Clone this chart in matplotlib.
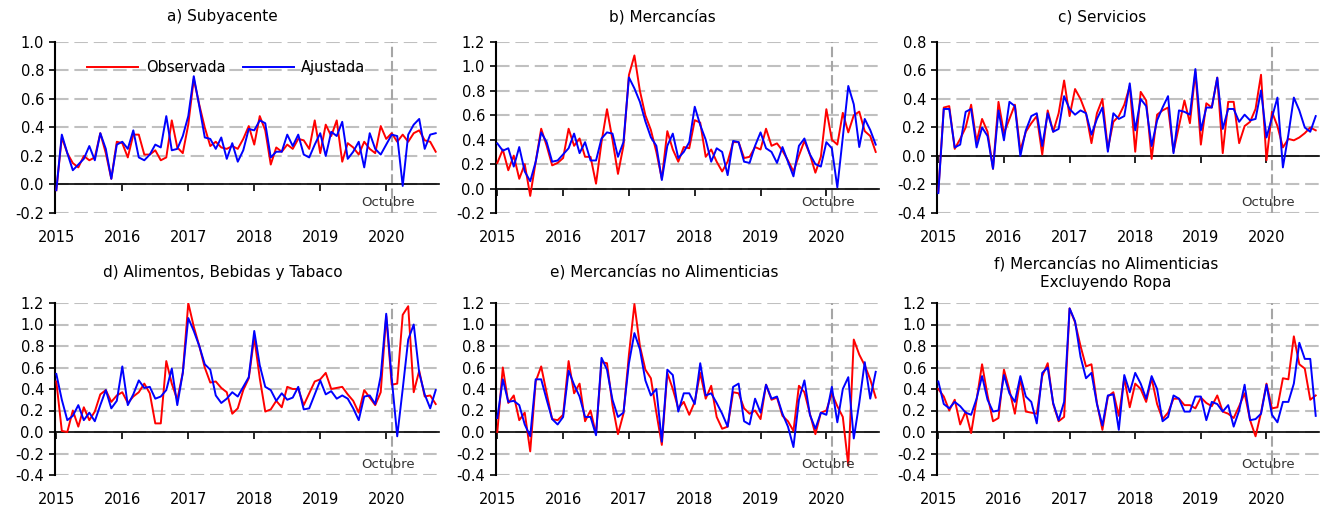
import numpy as np
import matplotlib
matplotlib.use("Agg")
import matplotlib.pyplot as plt
import matplotlib.transforms as mtransforms
from matplotlib.ticker import FormatStrFormatter

# meses de enero 2015 a octubre 2020
anios = [2015, 2016, 2017, 2018, 2019, 2020]
meses = 2015 + np.arange(70) / 12.0
corte = 2020 + 1 / 12.0

sub_obs = [-0.04, 0.33, 0.22, 0.15, 0.12, 0.20, 0.17, 0.19, 0.36, 0.22,
           0.04, 0.30, 0.29, 0.19, 0.35, 0.35, 0.21, 0.21, 0.24, 0.17,
           0.19, 0.45, 0.26, 0.22, 0.42, 0.74, 0.56, 0.40, 0.27, 0.30,
           0.26, 0.25, 0.27, 0.25, 0.32, 0.41, 0.28, 0.48, 0.38, 0.14,
           0.26, 0.23, 0.28, 0.25, 0.32, 0.31, 0.25, 0.45, 0.22, 0.42,
           0.34, 0.45, 0.16, 0.29, 0.26, 0.21, 0.30, 0.25, 0.22, 0.41,
           0.32, 0.36, 0.30, 0.35, 0.30, 0.36, 0.38, 0.31, 0.30, 0.23]
sub_aj = [-0.04, 0.35, 0.22, 0.10, 0.14, 0.18, 0.27, 0.17, 0.36, 0.25,
          0.04, 0.28, 0.30, 0.25, 0.38, 0.19, 0.17, 0.21, 0.28, 0.26,
          0.48, 0.24, 0.25, 0.34, 0.48, 0.76, 0.55, 0.33, 0.32, 0.25,
          0.33, 0.18, 0.29, 0.16, 0.24, 0.39, 0.38, 0.45, 0.43, 0.19,
          0.23, 0.23, 0.35, 0.27, 0.35, 0.21, 0.19, 0.28, 0.36, 0.20,
          0.37, 0.34, 0.44, 0.18, 0.23, 0.30, 0.12, 0.36, 0.25, 0.21,
          0.28, 0.35, 0.34, -0.01, 0.35, 0.42, 0.46, 0.25, 0.35, 0.36]

mer_obs = [0.21, 0.32, 0.15, 0.27, 0.08, 0.20, -0.06, 0.22, 0.49, 0.35,
           0.19, 0.21, 0.25, 0.49, 0.35, 0.41, 0.26, 0.26, 0.04, 0.38,
           0.65, 0.40, 0.12, 0.35, 0.93, 1.09, 0.80, 0.60, 0.48, 0.30,
           0.08, 0.47, 0.32, 0.22, 0.34, 0.33, 0.56, 0.54, 0.26, 0.32,
           0.22, 0.14, 0.22, 0.38, 0.38, 0.25, 0.26, 0.34, 0.32, 0.49,
           0.35, 0.37, 0.31, 0.23, 0.14, 0.27, 0.39, 0.28, 0.13, 0.26,
           0.65, 0.40, 0.36, 0.62, 0.46, 0.60, 0.63, 0.47, 0.43, 0.30]
mer_aj = [0.37, 0.31, 0.33, 0.18, 0.34, 0.14, 0.06, 0.22, 0.46, 0.38,
          0.22, 0.23, 0.28, 0.33, 0.45, 0.29, 0.38, 0.23, 0.23, 0.41,
          0.46, 0.45, 0.26, 0.38, 0.91, 0.82, 0.71, 0.55, 0.42, 0.35,
          0.07, 0.35, 0.45, 0.25, 0.30, 0.38, 0.67, 0.52, 0.40, 0.22,
          0.33, 0.30, 0.11, 0.39, 0.38, 0.22, 0.21, 0.35, 0.46, 0.33,
          0.30, 0.21, 0.34, 0.22, 0.10, 0.35, 0.41, 0.28, 0.20, 0.18,
          0.38, 0.33, 0.01, 0.42, 0.84, 0.69, 0.34, 0.57, 0.48, 0.36]

ser_obs = [-0.25, 0.34, 0.35, 0.05, 0.12, 0.20, 0.36, 0.10, 0.26, 0.17,
           -0.09, 0.38, 0.16, 0.26, 0.36, 0.04, 0.17, 0.23, 0.28, 0.01,
           0.32, 0.17, 0.30, 0.53, 0.28, 0.47, 0.40, 0.30, 0.09, 0.30,
           0.40, 0.05, 0.24, 0.28, 0.36, 0.49, 0.03, 0.45, 0.39, -0.02,
           0.29, 0.32, 0.34, 0.03, 0.21, 0.39, 0.23, 0.59, 0.08, 0.37,
           0.34, 0.55, 0.02, 0.38, 0.38, 0.09, 0.21, 0.24, 0.33, 0.57,
           -0.03, 0.31, 0.21, 0.06, 0.12, 0.11, 0.13, 0.16, 0.20, 0.18]
ser_aj = [-0.26, 0.33, 0.33, 0.06, 0.08, 0.31, 0.33, 0.06, 0.20, 0.14,
          -0.09, 0.32, 0.11, 0.38, 0.35, 0.00, 0.18, 0.28, 0.30, 0.07,
          0.30, 0.17, 0.19, 0.42, 0.33, 0.29, 0.32, 0.30, 0.15, 0.26,
          0.34, 0.03, 0.30, 0.26, 0.28, 0.51, 0.18, 0.40, 0.35, 0.07,
          0.25, 0.34, 0.42, 0.02, 0.32, 0.31, 0.29, 0.61, 0.18, 0.34,
          0.34, 0.55, 0.19, 0.33, 0.33, 0.24, 0.29, 0.25, 0.26, 0.46,
          0.13, 0.27, 0.41, -0.08, 0.15, 0.41, 0.32, 0.20, 0.17, 0.28]

abt_obs = [0.47, 0.01, 0.00, 0.20, 0.05, 0.23, 0.11, 0.19, 0.35, 0.39,
           0.28, 0.34, 0.37, 0.27, 0.33, 0.37, 0.45, 0.36, 0.08, 0.08,
           0.66, 0.45, 0.30, 0.55, 1.20, 0.98, 0.80, 0.60, 0.46, 0.47,
           0.41, 0.37, 0.17, 0.22, 0.39, 0.50, 0.88, 0.50, 0.19, 0.21,
           0.29, 0.23, 0.42, 0.40, 0.40, 0.25, 0.36, 0.47, 0.49, 0.55,
           0.40, 0.41, 0.42, 0.35, 0.29, 0.18, 0.39, 0.32, 0.25, 0.37,
           1.08, 0.44, 0.45, 1.09, 1.17, 0.37, 0.57, 0.33, 0.34, 0.26]
abt_aj = [0.54, 0.30, 0.11, 0.15, 0.25, 0.11, 0.18, 0.10, 0.25, 0.39,
          0.22, 0.29, 0.61, 0.25, 0.35, 0.48, 0.41, 0.42, 0.31, 0.33,
          0.39, 0.59, 0.25, 0.55, 1.06, 0.94, 0.80, 0.63, 0.58, 0.34,
          0.27, 0.31, 0.37, 0.33, 0.42, 0.51, 0.94, 0.62, 0.42, 0.39,
          0.29, 0.36, 0.30, 0.32, 0.42, 0.21, 0.22, 0.35, 0.48, 0.35,
          0.38, 0.31, 0.34, 0.31, 0.22, 0.11, 0.33, 0.34, 0.26, 0.52,
          1.10, 0.50, -0.04, 0.40, 0.86, 1.00, 0.55, 0.35, 0.22, 0.39]

mna_obs = [0.00, 0.60, 0.27, 0.34, 0.11, 0.18, -0.18, 0.47, 0.61, 0.36,
           0.12, 0.11, 0.16, 0.66, 0.36, 0.45, 0.10, 0.20, -0.02, 0.65,
           0.64, 0.25, -0.02, 0.17, 0.72, 1.19, 0.80, 0.58, 0.50, 0.18,
           -0.12, 0.55, 0.40, 0.22, 0.28, 0.16, 0.28, 0.55, 0.31, 0.43,
           0.14, 0.03, 0.05, 0.37, 0.36, 0.22, 0.17, 0.20, 0.12, 0.44,
           0.30, 0.32, 0.15, 0.10, 0.01, 0.43, 0.37, 0.17, -0.02, 0.18,
           0.20, 0.36, 0.24, 0.14, -0.31, 0.86, 0.72, 0.62, 0.49, 0.32]
mna_aj = [0.13, 0.49, 0.28, 0.29, 0.25, 0.07, -0.04, 0.49, 0.49, 0.30,
          0.12, 0.07, 0.14, 0.57, 0.44, 0.33, 0.14, 0.14, -0.03, 0.69,
          0.58, 0.30, 0.14, 0.18, 0.64, 0.92, 0.77, 0.48, 0.34, 0.40,
          -0.09, 0.58, 0.53, 0.19, 0.36, 0.36, 0.26, 0.64, 0.34, 0.36,
          0.27, 0.17, 0.05, 0.42, 0.45, 0.10, 0.07, 0.31, 0.18, 0.44,
          0.31, 0.33, 0.17, 0.05, -0.14, 0.30, 0.48, 0.16, 0.03, 0.18,
          0.16, 0.42, 0.09, 0.40, 0.51, -0.06, 0.27, 0.65, 0.31, 0.56]

mnr_obs = [0.40, 0.33, 0.20, 0.30, 0.07, 0.19, -0.01, 0.30, 0.63, 0.34,
           0.10, 0.13, 0.58, 0.39, 0.17, 0.50, 0.19, 0.18, 0.17, 0.52,
           0.64, 0.26, 0.10, 0.14, 1.15, 1.02, 0.80, 0.61, 0.63, 0.27,
           0.02, 0.33, 0.37, 0.15, 0.50, 0.23, 0.45, 0.40, 0.28, 0.50,
           0.26, 0.12, 0.18, 0.31, 0.31, 0.25, 0.25, 0.22, 0.32, 0.27,
           0.24, 0.34, 0.19, 0.17, 0.13, 0.24, 0.36, 0.11, -0.04, 0.18,
           0.45, 0.22, 0.23, 0.50, 0.49, 0.89, 0.63, 0.59, 0.30, 0.34]
mnr_aj = [0.47, 0.26, 0.22, 0.28, 0.24, 0.18, 0.16, 0.31, 0.52, 0.30,
          0.19, 0.20, 0.53, 0.36, 0.28, 0.52, 0.33, 0.28, 0.08, 0.55,
          0.60, 0.27, 0.11, 0.28, 1.15, 1.03, 0.70, 0.50, 0.55, 0.26,
          0.06, 0.34, 0.35, 0.02, 0.53, 0.37, 0.55, 0.45, 0.31, 0.52,
          0.40, 0.10, 0.14, 0.34, 0.31, 0.19, 0.19, 0.33, 0.33, 0.11,
          0.28, 0.26, 0.19, 0.25, 0.05, 0.20, 0.44, 0.11, 0.12, 0.17,
          0.44, 0.16, 0.09, 0.28, 0.28, 0.45, 0.83, 0.68, 0.68, 0.15]

W, H = 1322, 508
# (titulo, observada, ajustada, limites y, caja en px [izq, arriba, der, abajo], centro del titulo)
paneles = [
    ("a) Subyacente", sub_obs, sub_aj, (-0.2, 1.0), (55, 42, 439, 213), (222, 17)),
    ("b) Mercancías", mer_obs, mer_aj, (-0.2, 1.2), (496, 42, 879, 213), (662, 17)),
    ("c) Servicios", ser_obs, ser_aj, (-0.4, 0.8), (937, 42, 1319, 213), (1102, 17)),
    ("d) Alimentos, Bebidas y Tabaco", abt_obs, abt_aj, (-0.4, 1.2), (55, 303, 439, 475), (223, 272)),
    ("e) Mercancías no Alimenticias", mna_obs, mna_aj, (-0.4, 1.2), (496, 303, 879, 475), (664, 272)),
    ("f) Mercancías no Alimenticias\nExcluyendo Ropa", mnr_obs, mnr_aj, (-0.4, 1.2), (937, 303, 1319, 475), (1106, 273)),
]

plt.rcParams['font.family'] = ['DejaVu Sans']
fig = plt.figure(figsize=(W / 100, H / 100), dpi=100)

for i, (titulo, obs, aj, lim, caja, tpos) in enumerate(paneles):
    l, t, r, b = caja
    ax = fig.add_axes([l / W, 1 - b / H, (r - l) / W, (b - t) / H])
    ax.plot(meses, obs, color='#FF0000', lw=1.4, label='Observada', zorder=3)
    ax.plot(meses, aj, color='#0000FF', lw=1.4, label='Ajustada', zorder=3)

    ax.set_xlim(2014.98, 2020.80)
    ax.set_ylim(*lim)
    ax.set_yticks(np.round(np.arange(lim[0], lim[1] + 0.01, 0.2), 1))
    ax.yaxis.set_major_formatter(FormatStrFormatter('%.1f'))
    ax.set_axisbelow(True)
    ax.grid(axis='y', color='#C0C0C0', lw=1.5, linestyle=(0, (6.5, 2.8)))

    ax.spines['top'].set_visible(False)
    ax.spines['right'].set_visible(False)
    ax.spines['left'].set_linewidth(1.5)
    ax.spines['bottom'].set_position(('data', 0))
    ax.spines['bottom'].set_linewidth(1.2)

    ax.set_xticks(anios)
    ax.tick_params(axis='x', direction='out', length=5, width=1.2, labelbottom=False)
    ax.tick_params(axis='y', direction='out', length=4, width=1.2, labelsize=10.5, pad=4)

    # etiquetas de los años abajo del panel
    sec = ax.secondary_xaxis('bottom')
    sec.set_xticks(anios)
    sec.tick_params(length=0, pad=12, labelsize=10.5)
    sec.spines['bottom'].set_visible(False)

    ax.axvline(corte, color='#A6A6A6', lw=1.5, linestyle=(0, (5, 1.8)), zorder=1)
    trans = mtransforms.blended_transform_factory(ax.transData, ax.transAxes)
    ax.text(2020.03, 0.06, 'Octubre', transform=trans, ha='center', va='center',
            fontsize=9.5, color='#333333')

    if i == 0:
        ax.legend(loc='upper left', bbox_to_anchor=(0.05, 0.97), ncol=2, frameon=False,
                  fontsize=10.5, handlelength=3.5, columnspacing=1.2, handletextpad=0.5)

    fig.text(tpos[0] / W, 1 - tpos[1] / H, titulo, ha='center', va='center',
             fontsize=11, linespacing=1.3)

fig.savefig('out.png', dpi=100)
